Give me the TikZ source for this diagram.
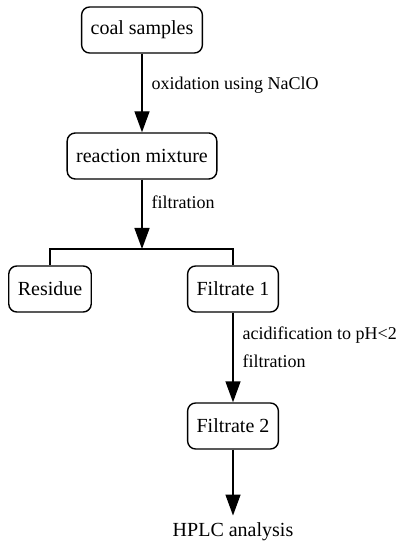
\documentclass[tikz,border=0pt]{standalone}
\usepackage{fontspec}
\setmainfont{Liberation Serif}
\newfontfamily\boxfont{Liberation Serif}
\usetikzlibrary{arrows.meta}
\tikzset{stepbox/.style={draw,rounded corners=4pt,minimum height=23pt,inner xsep=4.5pt},
         lbl/.style={font=\boxfont\fontsize{9}{14}\selectfont,inner xsep=4.5pt}}

\begin{document}
\begin{tikzpicture}[>={Triangle[length=10.5pt,width=7.5pt]},line width=0.7pt,font=\boxfont\fontsize{10}{12}\selectfont,node distance=63pt]

    \useasboundingbox (0,0) rectangle (203.5pt,-275pt);

    \node[stepbox] (coal) at (71pt,-15pt) {coal samples};

    \node[stepbox,below of=coal] (mix) {reaction mixture};
    \draw[->] (coal) to node[right,pos=0.4,lbl] {oxidation using NaClO} (mix);

    \coordinate (split) at ([yshift=-46.5pt]mix.center);
    \draw[->] (mix) to node[right,pos=0.33,lbl] {filtration} (split);

    \node[stepbox,below of=mix,xshift=45.5pt,yshift=-3.5pt] (filt1) {Filtrate 1};

    \node[stepbox,left of=filt1,xshift=-28.5pt] (res) {Residue};
    \draw (res.north) |- (split) -| (filt1.north);

    \node[stepbox,below of=filt1,yshift=-5.5pt] (filt2) {Filtrate 2};
    \draw[->] (filt1) to node[right,pos=0.39,align=left,lbl] {acidification to pH<2\\filtration} (filt2);

    \node[below of=filt2,yshift=10pt] (hplc) {HPLC analysis};
    \draw[->] (filt2) to (hplc);

\end{tikzpicture}
\end{document}
